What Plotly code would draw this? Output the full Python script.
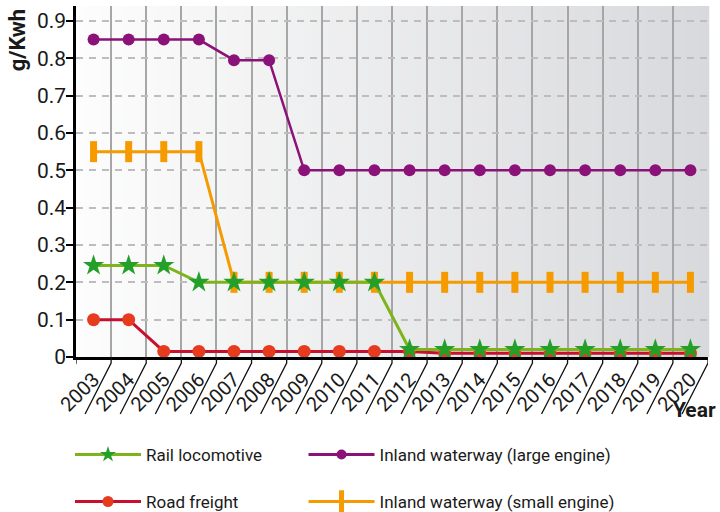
import plotly.graph_objects as go

years = [str(y) for y in range(2003, 2021)]
rail = [0.245, 0.245, 0.245, 0.2, 0.2, 0.2, 0.2, 0.2, 0.2,
        0.02, 0.02, 0.02, 0.02, 0.02, 0.02, 0.02, 0.02, 0.02]
road = [0.1, 0.1, 0.015, 0.015, 0.015, 0.015, 0.015, 0.015, 0.015,
        0.015, 0.01, 0.01, 0.01, 0.01, 0.01, 0.01, 0.01, 0.01]
large = [0.85, 0.85, 0.85, 0.85, 0.795, 0.795, 0.5, 0.5, 0.5,
         0.5, 0.5, 0.5, 0.5, 0.5, 0.5, 0.5, 0.5, 0.5]
small = [0.55, 0.55, 0.55, 0.55, 0.2, 0.2, 0.2, 0.2, 0.2,
         0.2, 0.2, 0.2, 0.2, 0.2, 0.2, 0.2, 0.2, 0.2]
y_ticks = [0, 0.1, 0.2, 0.3, 0.4, 0.5, 0.6, 0.7, 0.8, 0.9]

FONT = "Roboto, Noto Sans, sans-serif"
TXT = "#1a1a1a"

series = [
    # name, values, line colour, line width, marker, legend marker, legend id
    ("Inland waterway (small engine)", small, "#f59b00", 3,
     dict(symbol="line-ns", size=15, line=dict(color="#f59b00", width=7)),
     dict(symbol="line-ns", size=16, line=dict(color="#f59b00", width=6)), "legend4"),
    ("Inland waterway (large engine)", large, "#8b1278", 2.5,
     dict(symbol="circle", size=12, color="#8b1278"),
     dict(symbol="circle", size=10, color="#8b1278"), "legend2"),
    ("Road freight", road, "#c8102e", 3,
     dict(symbol="circle", size=13, color="#e63b1f"),
     dict(symbol="circle", size=11, color="#e63b1f"), "legend3"),
    ("Rail locomotive", rail, "#7db41c", 3,
     dict(symbol="star", size=16, color="#22a02a"),
     dict(symbol="star", size=12, color="#22a02a"), "legend"),
]

fig = go.Figure()
for name, vals, lc, lw, mk, lmk, lg in series:
    fig.add_trace(go.Scatter(x=years, y=vals, name=name, mode="lines+markers",
                             line=dict(color=lc, width=lw), marker=mk,
                             showlegend=False))
for name, vals, lc, lw, mk, lmk, lg in series:
    fig.add_trace(go.Scatter(x=[None], y=[None], name=name, mode="lines+markers",
                             line=dict(color=lc, width=3), marker=lmk,
                             legend=lg, showlegend=True))

# background gradient (decorative)
N = 80
c0 = (253, 253, 253)
c1 = (216, 217, 220)
shapes = []
for k in range(N):
    t = (k + 0.5) / N
    col = tuple(round(c0[i] + (c1[i] - c0[i]) * t) for i in range(3))
    shapes.append(dict(type="rect", xref="x domain", yref="y domain",
                       x0=k / N, x1=(k + 1) / N + 0.002, y0=0, y1=1,
                       fillcolor="rgb(%d,%d,%d)" % col, line=dict(width=0),
                       layer="below"))
# diagonal tick-label strokes at category boundaries
for i in range(len(years) + 1):
    shapes.append(dict(type="path", xref="x", yref="paper",
                       xsizemode="pixel", ysizemode="pixel",
                       xanchor=i - 0.5, yanchor=0,
                       path="M0,0 L0,-6 L-26,-57",
                       line=dict(color="#111111", width=1.3)))

lc_ = dict(orientation="h", xanchor="left", yanchor="middle",
           itemwidth=66, font=dict(size=17, color=TXT), bgcolor="rgba(0,0,0,0)")
COL1, COL2 = -0.0095, 0.36
ROW1, ROW2 = -0.279, -0.413

fig.update_layout(
    width=720, height=512,
    margin=dict(l=76, r=12, t=6, b=155, autoexpand=False),
    paper_bgcolor="white", plot_bgcolor="rgba(0,0,0,0)",
    font=dict(family=FONT, size=20, color=TXT),
    shapes=shapes,
    showlegend=True,
    legend=dict(x=COL1, y=ROW1, **lc_),
    legend2=dict(x=COL2, y=ROW1, **lc_),
    legend3=dict(x=COL1, y=ROW2, **lc_),
    legend4=dict(x=COL2, y=ROW2, **lc_),
    annotations=[
        dict(text="<b>g/Kwh</b>", xref="paper", yref="paper", x=-0.092, y=1.0,
             xanchor="center", yanchor="top", textangle=-90, showarrow=False,
             font=dict(size=22, color=TXT)),
        dict(text="<b>Year</b>", xref="paper", yref="paper", x=1.0, y=-0.15,
             xanchor="right", yanchor="middle", xshift=10, showarrow=False,
             font=dict(size=21, color=TXT)),
    ],
)
fig.update_xaxes(
    type="category", categoryarray=years, range=[-0.5, len(years) - 0.5],
    tickson="boundaries", ticks="", tickangle=-45,
    showgrid=True, gridcolor="#a6a6a6", gridwidth=1.5,
    showline=True, linecolor="#000000", linewidth=3,
    tickfont=dict(size=20, color=TXT),
)
fig.update_yaxes(
    range=[0, 0.94], tickvals=y_ticks, ticks="outside", ticklen=7,
    tickcolor="#000000", tickwidth=1.5, ticklabelstandoff=-4,
    showgrid=True, gridcolor="#bdbdbd", gridwidth=2, griddash="7px,6px",
    showline=True, linecolor="#000000", linewidth=2.5, zeroline=False,
    tickfont=dict(size=21, color=TXT),
)

fig.write_html("out.html", config={"displayModeBar": False},
               post_script="document.body.style.margin='0px';")
